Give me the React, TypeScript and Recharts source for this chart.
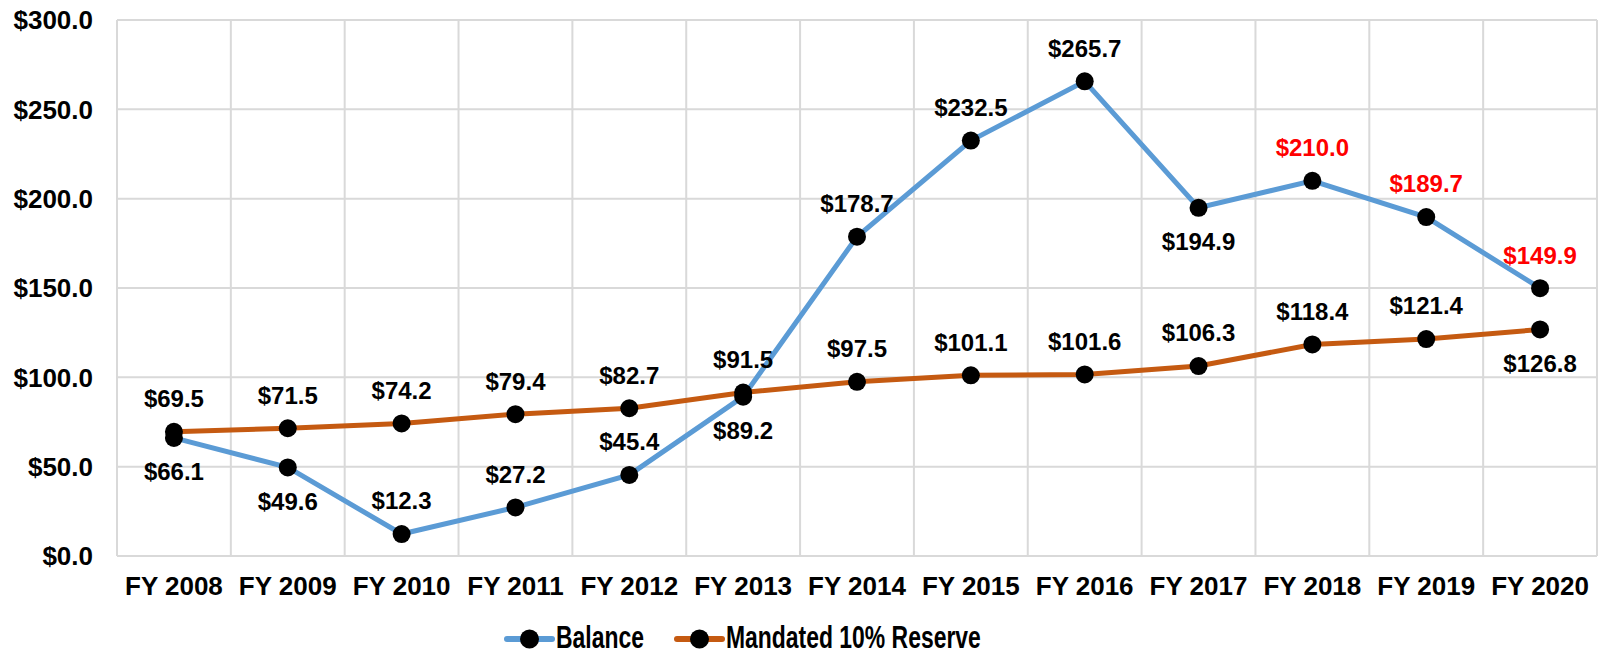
import React from "react";
import { CartesianGrid, LabelList, Legend, Line, LineChart, XAxis, YAxis } from "recharts";

const years = ["FY 2008", "FY 2009", "FY 2010", "FY 2011", "FY 2012", "FY 2013", "FY 2014", "FY 2015", "FY 2016", "FY 2017", "FY 2018", "FY 2019", "FY 2020"];
const balance = [66.1, 49.6, 12.3, 27.2, 45.4, 89.2, 178.7, 232.5, 265.7, 194.9, 210.0, 189.7, 149.9];
const reserve = [69.5, 71.5, 74.2, 79.4, 82.7, 91.5, 97.5, 101.1, 101.6, 106.3, 118.4, 121.4, 126.8];
const yTicks = [0, 50, 100, 150, 200, 250, 300];

const data = years.map((year, i) => ({ year, balance: balance[i], reserve: reserve[i] }));

const FONT = '"Liberation Sans", Arial, sans-serif';
const BLUE = "#5B9BD5";
const ORANGE = "#C55A11";

// which labels sit under their point, and which are drawn in red
const balanceBelow = new Set([0, 1, 5, 9]);
const reserveBelow = new Set([12]);
const balanceRed = new Set([10, 11, 12]);

const money = (v: number) => `$${v.toFixed(1)}`;

function makeLabel(below: Set<number>, red: Set<number>) {
  return (props: any) => {
    const { x, y, value, index } = props;
    const dy = below.has(index) ? 34 : -33;
    return (
      <text
        x={x}
        y={y + dy}
        dy="0.35em"
        textAnchor="middle"
        fontFamily={FONT}
        fontWeight="bold"
        fontSize={24}
        fill={red.has(index) ? "#FF0000" : "#000"}
      >
        {money(value)}
      </text>
    );
  };
}

function LegendContent() {
  const items = [
    { name: "Balance", color: BLUE, x: 507 },
    { name: "Mandated 10% Reserve", color: ORANGE, x: 677 },
  ];
  return (
    <svg width={1599} height={49} style={{ overflow: "visible", display: "block" }}>
      {items.map((it) => (
        <g key={it.name}>
          <line x1={it.x} x2={it.x + 45} y1={33} y2={33} stroke={it.color} strokeWidth={6} strokeLinecap="round" />
          <circle cx={it.x + 22.5} cy={33} r={9.5} fill="#000" />
          <text
            transform={`translate(${it.x + 49},42) scale(0.74,1)`}
            fontFamily={FONT}
            fontWeight="bold"
            fontSize={31}
            fill="#000"
          >
            {it.name}
          </text>
        </g>
      ))}
    </svg>
  );
}

export default function App() {
  return (
    <div style={{ position: "absolute", left: 0, top: 0, width: 1599, height: 655, overflow: "hidden", background: "#fff" }}>
      <LineChart width={1599} height={655} data={data} margin={{ top: 20, right: 2, bottom: 0, left: 0 }}>
        <CartesianGrid
          stroke="#D9D9D9"
          strokeWidth={2}
          verticalCoordinatesGenerator={({ offset }: any) =>
            years.map((_, i) => offset.left + (i * offset.width) / years.length).concat(offset.left + offset.width)
          }
        />
        <XAxis
          dataKey="year"
          scale="band"
          tickLine={false}
          axisLine={false}
          tickSize={0}
          tickMargin={21}
          height={50}
          interval={0}
          tick={{ fill: "#000", fontSize: 26, fontWeight: "bold", fontFamily: FONT }}
        />
        <YAxis
          domain={[0, 300]}
          ticks={yTicks}
          tickFormatter={money}
          tickLine={false}
          axisLine={false}
          tickSize={0}
          tickMargin={24}
          width={117}
          tick={{ fill: "#000", fontSize: 26, fontWeight: "bold", fontFamily: FONT }}
        />
        <Legend verticalAlign="bottom" content={<LegendContent />} wrapperStyle={{ left: 0, width: 1599, height: 49 }} />
        <Line
          name="Balance"
          dataKey="balance"
          type="linear"
          stroke={BLUE}
          strokeWidth={5}
          dot={{ r: 9, fill: "#000", stroke: "none" }}
          activeDot={false}
          isAnimationActive={false}
        >
          <LabelList dataKey="balance" content={makeLabel(balanceBelow, balanceRed)} />
        </Line>
        <Line
          name="Mandated 10% Reserve"
          dataKey="reserve"
          type="linear"
          stroke={ORANGE}
          strokeWidth={5}
          dot={{ r: 9, fill: "#000", stroke: "none" }}
          activeDot={false}
          isAnimationActive={false}
        >
          <LabelList dataKey="reserve" content={makeLabel(reserveBelow, new Set())} />
        </Line>
      </LineChart>
    </div>
  );
}
